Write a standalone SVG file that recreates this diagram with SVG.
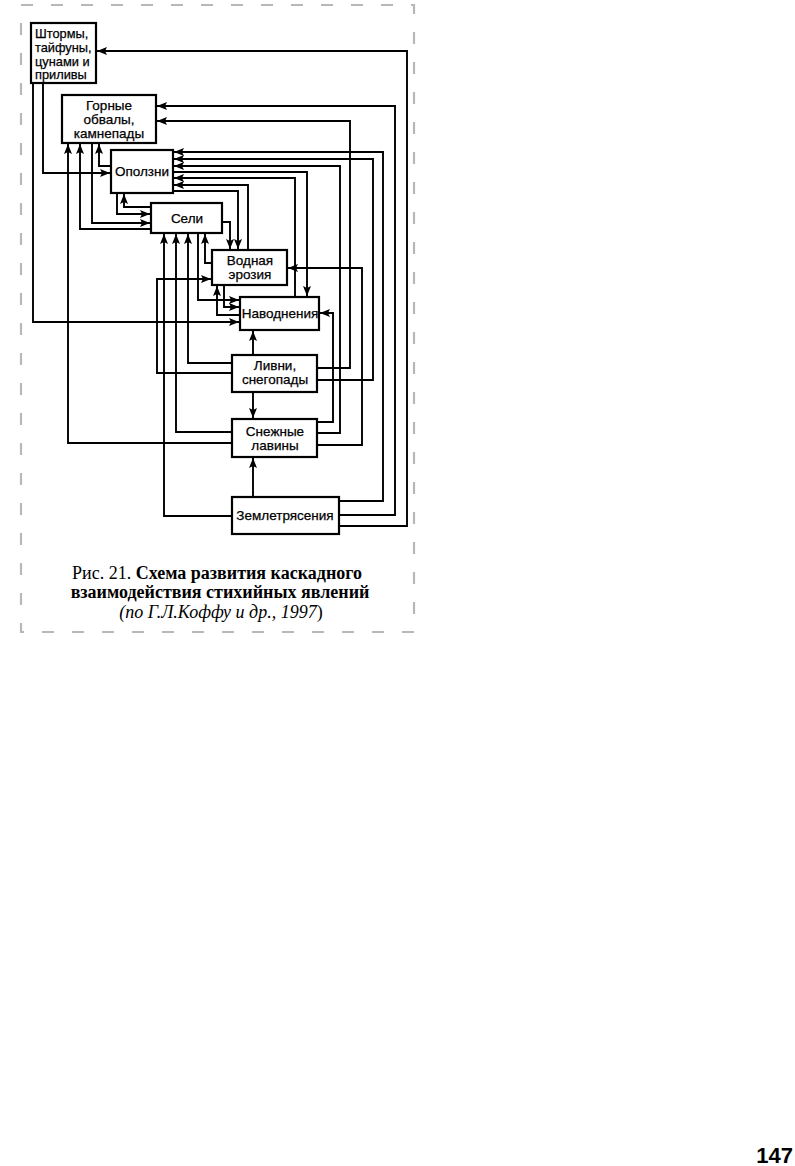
<svg xmlns="http://www.w3.org/2000/svg" width="795" height="1166" viewBox="0 0 795 1166">
<style>
.box{fill:#fff;stroke:#000;stroke-width:2.2}
.lbl{font-family:"Liberation Sans","DejaVu Sans",sans-serif;font-size:13.5px;fill:#000;stroke:#000;stroke-width:0.25;text-anchor:middle}
.c{fill:none;stroke:#000;stroke-width:1.9;marker-end:url(#ah)}
.cap{font-family:"Liberation Serif","Times New Roman",serif;font-size:18px;fill:#000;text-anchor:middle}
.frame{fill:none;stroke:#b8b8b8;stroke-width:2.2;stroke-dasharray:12 18}
</style>
<defs>
<marker id="ah" markerUnits="userSpaceOnUse" markerWidth="10" markerHeight="8" refX="10" refY="4" orient="auto">
<path d="M0,0 L10,4 L0,8 L2,4 z" fill="#000"/>
</marker>
</defs>
<rect width="795" height="1166" fill="#fff"/>
<rect class="frame" x="21" y="5" width="393" height="627"/>

<g id="connectors">
<polyline class="c" points="339,526 407,526 407,51 97,51"/>
<polyline class="c" points="339,515 395,515 395,106 157,106"/>
<polyline class="c" points="339,501 383,501 383,152 174,152"/>
<polyline class="c" points="317,368 350,368 350,121 157,121"/>
<polyline class="c" points="317,380 373,380 373,159 174,159"/>
<polyline class="c" points="317,433 340,433 340,166 174,166"/>
<polyline class="c" points="173,172 307,172 307,296"/>
<polyline class="c" points="295,297 295,178 174,178"/>
<polyline class="c" points="248,250 248,185 174,185"/>
<polyline class="c" points="173,191 238,191 238,249"/>
<polyline class="c" points="222,222 230,222 230,249"/>
<polyline class="c" points="317,445 362,445 362,268 288,268"/>
<polyline class="c" points="317,422 333,422 333,313 320,313"/>
<polyline class="c" points="43,83 43,173 110,173"/>
<polyline class="c" points="33,83 33,322 239,322"/>
<polyline class="c" points="111,166 99,166 99,144"/>
<polyline class="c" points="151,229 80,229 80,144"/>
<polyline class="c" points="92,143 92,223 150,223"/>
<polyline class="c" points="117,193 117,214 150,214"/>
<polyline class="c" points="151,207 124,207 124,194"/>
<polyline class="c" points="232,443 68,443 68,144"/>
<polyline class="c" points="232,432 176,432 176,234"/>
<polyline class="c" points="232,363 188,363 188,234"/>
<polyline class="c" points="232,516 164,516 164,234"/>
<polyline class="c" points="212,263 205,263 205,234"/>
<polyline class="c" points="198,233 198,300 239,300"/>
<polyline class="c" points="232,373 157,373 157,279 211,279"/>
<polyline class="c" points="240,315 217,315 217,286"/>
<polyline class="c" points="224,285 224,307 239,307"/>
<polyline class="c" points="253,355 253,331"/>
<polyline class="c" points="253,392 253,418"/>
<polyline class="c" points="253,497 253,458"/>
</g>

<g id="shtormy">
<rect class="box" x="31" y="23" width="65" height="60"/>
<text class="lbl" style="text-anchor:start;font-size:12.8px"><tspan x="35" y="38">Штормы,</tspan><tspan x="35" y="52">тайфуны,</tspan><tspan x="35" y="66">цунами и</tspan><tspan x="35" y="79">приливы</tspan></text>
</g>
<g id="gornye">
<rect class="box" x="62" y="95" width="94" height="48"/>
<text class="lbl"><tspan x="109" y="110">Горные</tspan><tspan x="109" y="124">обвалы,</tspan><tspan x="109" y="138">камнепады</tspan></text>
</g>
<g id="opolzni">
<rect class="box" x="111" y="150" width="62" height="43"/>
<text class="lbl" x="142" y="176">Оползни</text>
</g>
<g id="seli">
<rect class="box" x="151" y="203" width="71" height="30"/>
<text class="lbl" x="187" y="223">Сели</text>
</g>
<g id="vodnaya">
<rect class="box" x="212" y="250" width="75" height="35"/>
<text class="lbl"><tspan x="250" y="265">Водная</tspan><tspan x="250" y="279">эрозия</tspan></text>
</g>
<g id="navodneniya">
<rect class="box" x="240" y="297" width="79" height="33"/>
<text class="lbl" x="280" y="318">Наводнения</text>
</g>
<g id="livni">
<rect class="box" x="232" y="355" width="85" height="37"/>
<text class="lbl"><tspan x="275" y="370">Ливни,</tspan><tspan x="275" y="384">снегопады</tspan></text>
</g>
<g id="lavini">
<rect class="box" x="232" y="419" width="85" height="38"/>
<text class="lbl"><tspan x="275" y="436">Снежные</tspan><tspan x="275" y="450">лавины</tspan></text>
</g>
<g id="zemletr">
<rect class="box" x="232" y="497" width="107" height="37"/>
<text class="lbl" x="285" y="520">Землетрясения</text>
</g>

<g id="caption">
<text class="cap" x="217" y="579">Рис. 21. <tspan font-weight="bold">Схема развития каскадного</tspan></text>
<text class="cap" x="220" y="598" font-weight="bold">взаимодействия стихийных явлений</text>
<text class="cap" x="221" y="618"><tspan font-style="italic">(по Г.Л.Коффу и др., 1997</tspan>)</text>
</g>
<text x="793" y="1163" font-family="Liberation Sans, Arial, sans-serif" font-weight="bold" font-size="22" text-anchor="end">147</text>
</svg>
